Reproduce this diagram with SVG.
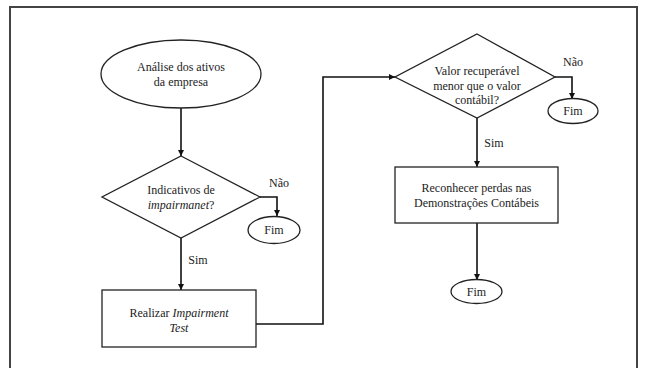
<svg xmlns="http://www.w3.org/2000/svg" width="645" height="368" viewBox="0 0 645 368">
<defs>
<style>
.shape{fill:#fff;stroke:#222;stroke-width:1.3}
.ln{fill:none;stroke:#111;stroke-width:1.6}
text{font-family:'Liberation Serif','DejaVu Serif','Times New Roman',serif;font-size:12px;fill:#222;text-anchor:middle}
.i{font-style:italic}
</style>
<marker id="ah" viewBox="0 0 10 10" refX="10" refY="5" markerWidth="6" markerHeight="6" orient="auto" markerUnits="userSpaceOnUse">
<path d="M0,0 L10,5 L0,10 z" fill="#111"/>
</marker>
</defs>
<rect x="0" y="0" width="645" height="368" fill="#fff"/>
<path d="M10,370 L10,7 L637,7 L637,370" fill="none" stroke="#444" stroke-width="2"/>

<g id="connectors">
<path class="ln" d="M181,108 L181,156" marker-end="url(#ah)"/>
<path class="ln" d="M260,197 L277,197 L277,216" marker-end="url(#ah)"/>
<path class="ln" d="M181,238 L181,290" marker-end="url(#ah)"/>
<path class="ln" d="M256,324 L323,324 L323,77 L395,77" marker-end="url(#ah)"/>
<path class="ln" d="M555,77 L572,77 L572,99" marker-end="url(#ah)"/>
<path class="ln" d="M477,118 L477,167" marker-end="url(#ah)"/>
<path class="ln" d="M477,223 L477,280" marker-end="url(#ah)"/>
<text x="279" y="187" font-family="Liberation Serif, serif">Não</text>
<text x="198" y="264" font-family="Liberation Serif, serif">Sim</text>
<text x="573" y="66" font-family="Liberation Serif, serif">Não</text>
<text x="494" y="147" font-family="Liberation Serif, serif">Sim</text>
</g>

<g id="start">
<ellipse class="shape" cx="181" cy="74" rx="80" ry="34"/>
<text x="181" y="71" font-family="Liberation Serif, serif">Análise dos ativos</text>
<text x="181" y="86" font-family="Liberation Serif, serif">da empresa</text>
</g>

<g id="decision1">
<polygon class="shape" points="181,156 260,197 181,238 102,197"/>
<text x="181" y="194" font-family="Liberation Serif, serif">Indicativos de</text>
<text x="181" y="209" font-family="Liberation Serif, serif"><tspan class="i">impairmanet</tspan>?</text>
</g>

<g id="end1">
<ellipse class="shape" cx="274" cy="230" rx="26" ry="13.5"/>
<text x="274" y="234" font-family="Liberation Serif, serif">Fim</text>
</g>

<g id="test">
<rect class="shape" x="102" y="290" width="154" height="57"/>
<text x="179" y="317" font-family="Liberation Serif, serif">Realizar <tspan class="i">Impairment</tspan></text>
<text class="i" x="179" y="332" font-family="Liberation Serif, serif">Test</text>
</g>

<g id="decision2">
<polygon class="shape" points="477,34 555,77 477,118 395,77"/>
<text x="477" y="75" font-family="Liberation Serif, serif">Valor recuperável</text>
<text x="477" y="90" font-family="Liberation Serif, serif">menor que o valor</text>
<text x="477" y="104" font-family="Liberation Serif, serif">contábil?</text>
</g>

<g id="end2">
<ellipse class="shape" cx="573" cy="111" rx="25" ry="12.5"/>
<text x="573" y="115" font-family="Liberation Serif, serif">Fim</text>
</g>

<g id="recognize">
<rect class="shape" x="395" y="167" width="163" height="56"/>
<text x="476.5" y="192" font-family="Liberation Serif, serif">Reconhecer perdas nas</text>
<text x="476.5" y="207" font-family="Liberation Serif, serif">Demonstrações Contábeis</text>
</g>

<g id="end3">
<ellipse class="shape" cx="476.5" cy="291.5" rx="25.5" ry="12"/>
<text x="476.5" y="295.5" font-family="Liberation Serif, serif">Fim</text>
</g>
</svg>
